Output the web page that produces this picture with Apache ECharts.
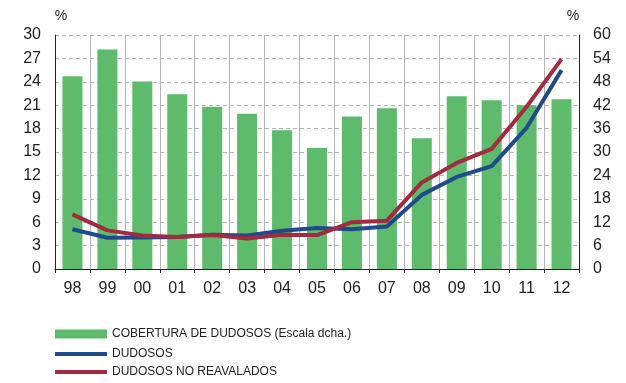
<!DOCTYPE html>
<html>
<head>
<meta charset="utf-8">
<script src="https://cdn.jsdelivr.net/npm/echarts@6/dist/echarts.min.js"></script>
<style>
  html, body { margin: 0; padding: 0; background: #fff; }
  #main { width: 626px; height: 383px; }
</style>
</head>
<body>
<div id="main"></div>
<script>
var years = ['98','99','00','01','02','03','04','05','06','07','08','09','10','11','12'];
// cobertura (escala dcha.)
var cobertura = [49.4, 56.3, 48.1, 44.8, 41.6, 39.8, 35.6, 31.0, 39.1, 41.2, 33.5, 44.3, 43.3, 42.0, 43.5];
var dudosos = [5.1, 4.0, 4.05, 4.1, 4.4, 4.3, 4.9, 5.25, 5.1, 5.45, 9.5, 11.8, 13.2, 18.1, 25.5];
var noReavalados = [7.0, 4.95, 4.3, 4.1, 4.35, 3.9, 4.4, 4.35, 6.0, 6.2, 11.1, 13.6, 15.4, 20.8, 26.9];
var leftTicks = [0, 30, 3];
var rightTicks = [0, 60, 6];

var font = 'Liberation Sans Narrow, Liberation Sans, Arial, sans-serif';
var myChart = echarts.init(document.getElementById('main'));
var option = {
    animation: false,
    textStyle: { fontFamily: font },
    grid: { left: 55, right: 47, top: 35, bottom: 114, containLabel: false },
    legend: [
        { left: 50, top: 323, orient: 'vertical', itemWidth: 52, itemHeight: 9, icon: 'rect',
          data: ['COBERTURA DE DUDOSOS (Escala dcha.)'],
          textStyle: { fontSize: 12, color: '#222', fontFamily: font } },
        { left: 50, top: 343, orient: 'vertical', itemWidth: 52, itemHeight: 4, icon: 'rect',
          data: ['DUDOSOS'],
          textStyle: { fontSize: 12, color: '#222', fontFamily: font } },
        { left: 50, top: 361, orient: 'vertical', itemWidth: 52, itemHeight: 4, icon: 'rect',
          data: ['DUDOSOS NO REAVALADOS'],
          textStyle: { fontSize: 12, color: '#222', fontFamily: font } }
    ],
    xAxis: {
        type: 'category',
        data: years,
        boundaryGap: true,
        axisLine: { lineStyle: { color: '#222', width: 1 } },
        axisTick: { show: true, length: 4, lineStyle: { color: '#222' } },
        axisLabel: { fontSize: 16, color: '#222', margin: 12, fontFamily: 'Liberation Sans, Arial, sans-serif' },
        splitLine: { show: true, lineStyle: { color: '#b5b5b5', width: 1 } }
    },
    yAxis: [
        {
            type: 'value', min: leftTicks[0], max: leftTicks[1], interval: leftTicks[2],
            name: '%', nameGap: 12, nameTextStyle: { fontSize: 14, color: '#222', align: 'center', padding: [0, 0, 0, 12] },
            axisLine: { show: true, lineStyle: { color: '#222' } },
            axisTick: { show: false },
            axisLabel: { fontSize: 16, color: '#222', margin: 14, fontFamily: 'Liberation Sans, Arial, sans-serif' },
            splitLine: { show: true, lineStyle: { color: '#b5b5b5', type: [4, 3] } }
        },
        {
            type: 'value', min: rightTicks[0], max: rightTicks[1], interval: rightTicks[2],
            name: '%', nameGap: 12, nameTextStyle: { fontSize: 14, color: '#222', align: 'center', padding: [0, 12, 0, 0] },
            axisLine: { show: true, lineStyle: { color: '#222' } },
            axisTick: { show: false },
            axisLabel: { fontSize: 16, color: '#222', margin: 14, fontFamily: 'Liberation Sans, Arial, sans-serif' },
            splitLine: { show: false }
        }
    ],
    series: [
        {
            name: 'COBERTURA DE DUDOSOS (Escala dcha.)',
            type: 'bar', yAxisIndex: 1, data: cobertura, barWidth: 20,
            itemStyle: { color: '#5dbb6b' }
        },
        {
            name: 'DUDOSOS', type: 'line', yAxisIndex: 0, data: dudosos,
            symbol: 'none', lineStyle: { color: '#1f4a8c', width: 4 }, itemStyle: { color: '#1f4a8c' }
        },
        {
            name: 'DUDOSOS NO REAVALADOS', type: 'line', yAxisIndex: 0, data: noReavalados,
            symbol: 'none', lineStyle: { color: '#a22b3f', width: 4 }, itemStyle: { color: '#a22b3f' }
        }
    ]
};
myChart.setOption(option);
</script>
</body>
</html>
